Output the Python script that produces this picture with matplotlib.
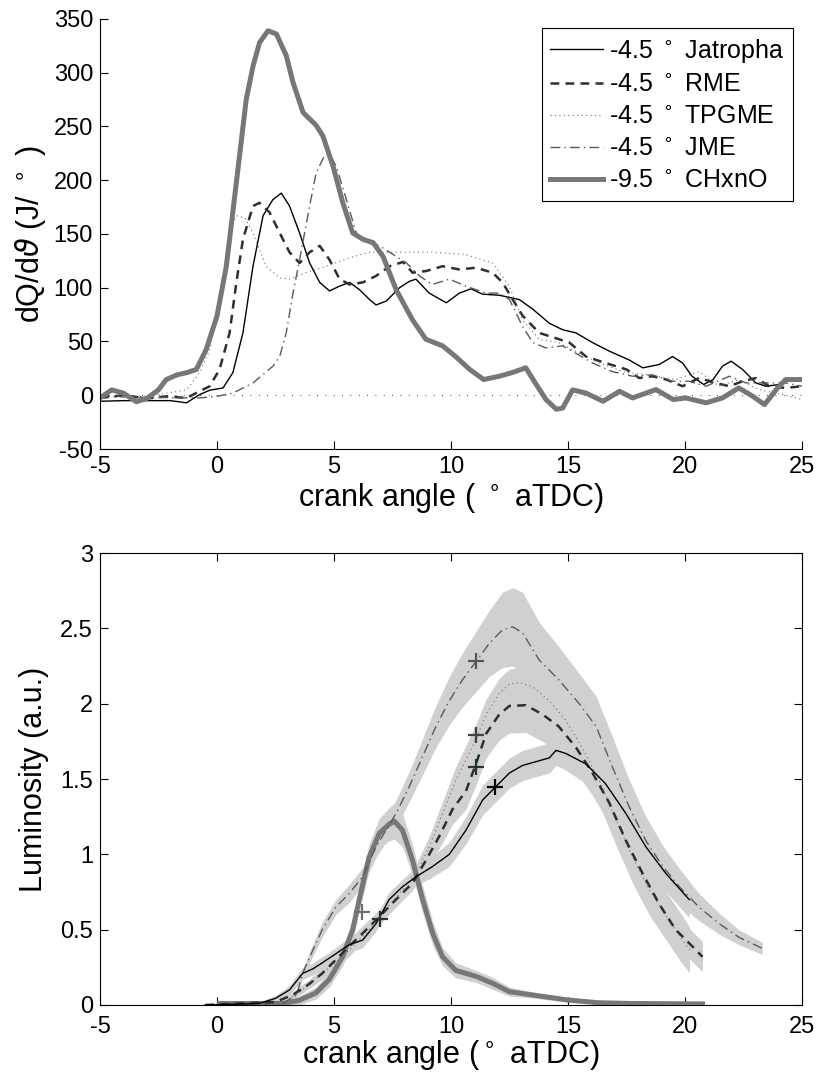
import matplotlib
matplotlib.use("Agg")
import matplotlib.pyplot as plt
import numpy as np

plt.rcParams['font.family'] = ['Liberation Sans', 'DejaVu Sans']
plt.rcParams['mathtext.fontset'] = 'dejavusans'
plt.rcParams['axes.unicode_minus'] = False

# ---------------- top panel: heat release rate ----------------
ang_jat = [-5, -4, -3, -2, -1.3, -0.74, -0.31, 0.26, 0.68, 1.11, 1.54, 1.97, 2.39, 2.75, 3.1, 3.53,
           3.96, 4.39, 4.81, 5.24, 5.67, 6.1, 6.52, 6.8, 7.24, 7.8, 8.23, 8.5, 9.07, 9.8, 10.36, 10.85,
           11.35, 12.07, 12.92, 13.5, 14.2, 14.77, 15.34, 16.05, 16.77, 17.6, 18.2, 18.9, 19.47, 19.9,
           20.3, 20.8, 21.2, 21.6, 21.97, 22.46, 23.03, 23.46, 24.03, 24.46, 25]
hrr_jat = [-5.6, -5, -5, -5, -7, 0.6, 4.7, 6.8, 21, 58, 120, 167, 182, 188, 176, 151,
           123, 105, 97, 101.5, 105, 98, 89, 84, 87.6, 100, 106, 108, 95, 86, 95, 99,
           94, 93, 89, 80, 67, 61, 58, 49, 41, 33, 25.5, 28.6, 36, 30,
           17.7, 10, 14.6, 27, 31.7, 24, 11.5, 8.4, 10, 14.6, 14.6]

ang_rme = [-5, -4, -3, -2.17, -1.3, -0.74, -0.31, 0.11, 0.54, 0.83, 1.11, 1.54, 1.82, 2.25, 2.68, 3.1,
           3.53, 3.96, 4.39, 4.81, 5.24, 5.67, 6.24, 6.8, 7.38, 7.95, 8.36, 8.93, 9.64, 10.36, 11.07,
           11.78, 12.2, 12.64, 13.06, 13.77, 14.49, 15.06, 15.77, 16.6, 17.5, 18.05, 18.6, 19.2, 19.9,
           20.6, 21.3, 21.9, 22.46, 23.03, 23.6, 24.3, 25]
hrr_rme = [-2.5, 0, -3, -1, -2.5, 3.7, 8.4, 24, 58, 105, 145, 176, 179, 170, 151, 133,
           123, 133, 139, 126, 108, 103, 105, 111, 120, 124, 114, 115.5, 120, 117, 118.6,
           114, 105, 89, 74, 58, 53, 49, 36, 30, 24, 16, 17.7, 14.6, 8.4,
           16, 11.5, 8.4, 13, 16, 8.4, 6.8, 8.4]

ang_tpg = [-5, -3, -1.3, -0.74, -0.31, 0.11, 0.54, 0.83, 1.2, 1.54, 2.1, 2.68, 3.1, 3.8, 4.67, 5.67,
           6.52, 7.8, 9.2, 10.6, 11.78, 12.5, 13.06, 13.77, 14.6, 15.48, 16.34, 17.48, 18.5, 19.6,
           20.6, 21.46, 22.3, 23.2, 24.2, 25]
hrr_tpg = [-1, -1, 5, 21, 42, 89, 151, 167, 165, 151, 120, 109, 108, 114, 120, 128,
           133, 133, 133, 131, 123, 101, 70, 52, 49, 39, 30, 21, 19, 14.6,
           22, 8.4, 14.6, 5, 0.6, -4]

ang_jme = [-5, -3, -0.74, 0, 0.68, 1.54, 2.39, 2.68, 2.96, 3.25, 3.53, 3.96, 4.24, 4.6, 4.81, 5.1,
           5.53, 5.95, 6.38, 6.95, 7.38, 8.1, 8.65, 9.2, 9.93, 10.64, 11.5, 12.07, 12.5, 13.06, 13.5,
           14.06, 14.77, 15.34, 16.05, 16.9, 17.76, 18.6, 19.47, 20.18, 20.9, 21.9, 22.6, 23.46, 24.3, 25]
hrr_jme = [-1, -2, -2.5, -1, 2, 11.5, 27, 36, 58, 95, 126, 176, 207, 223, 224, 213,
           182, 151, 142, 139, 133, 123, 111, 103, 108, 101.5, 95, 95, 89, 64, 49,
           44, 46, 39, 30, 22, 17.7, 19, 13, 13, 8.4, 17.7, 11.5, 11.5, 11.5, 8.4]

ang_chx = [-5, -4.5, -4, -3.45, -3, -2.5, -2.17, -1.7, -1.3, -0.88, -0.46, 0, 0.4, 0.83, 1.25, 1.54,
           1.82, 2.18, 2.54, 2.96, 3.25, 3.68, 4.24, 4.53, 4.96, 5.38, 5.8, 6.24, 6.67, 7.1, 7.66,
           8.36, 8.93, 9.64, 10.2, 10.8, 11.4, 12.07, 12.6, 13.2, 13.6, 14.06, 14.5, 14.77, 15.2,
           15.77, 16.5, 17.2, 17.76, 18.76, 19.5, 20.04, 20.9, 21.6, 22.3, 22.9, 23.4, 23.9, 24.3, 25]
hrr_chx = [-2.5, 5, 2, -6, -3, 5, 14.6, 19, 21, 24, 42.5, 73.6, 120, 198, 275, 306,
           328, 339, 336, 316, 291, 263, 251, 241, 213, 179, 151, 145, 142, 129, 98,
           70, 52, 46, 36, 24, 14.6, 17.7, 21, 25.5, 11.5, -4, -13, -12, 5,
           2, -5.6, 3.7, -2.5, 5.3, -4, -2.5, -7, -2.5, 6.8, -1, -8.7, 5.3, 14.6, 14.6]

labels = ['-4.5 $^\\circ$ Jatropha', '-4.5 $^\\circ$ RME', '-4.5 $^\\circ$ TPGME',
          '-4.5 $^\\circ$ JME', '-9.5 $^\\circ$ CHxnO']

# ---------------- bottom panel: luminosity ----------------
lang_jat = [-0.5, 1.8, 2.5, 3.1, 3.66, 4.1, 4.5, 5.08, 5.65, 6.22, 6.8, 7.36, 7.93, 8.5, 9.22,
            9.93, 10.64, 11.35, 11.92, 12.5, 13.06, 14.2, 14.49, 14.9, 15.77, 16.6, 17.48, 18.33,
            19.2, 20.18]
lum_jat = [0, 0.01, 0.044, 0.1, 0.21, 0.24, 0.28, 0.34, 0.4, 0.43, 0.54, 0.70, 0.785, 0.85, 0.92,
           1.0, 1.16, 1.36, 1.45, 1.54, 1.59, 1.64, 1.69, 1.67, 1.60, 1.47, 1.27, 1.05,
           0.87, 0.70]
sd_jat = [0, 0.01, 0.02, 0.03, 0.04, 0.04, 0.04, 0.04, 0.05, 0.05, 0.05, 0.05, 0.05, 0.06, 0.07,
          0.08, 0.09, 0.1, 0.1, 0.1, 0.1, 0.1, 0.1, 0.11, 0.13, 0.14, 0.14, 0.13,
          0.12, 0.12]

lang_rme = [-0.5, 2.5, 3.23, 3.95, 4.5, 5.08, 5.65, 6.22, 6.94, 7.65, 8.36, 8.93, 9.5, 10.07, 10.64,
            11.07, 11.5, 12.07, 12.5, 13.2, 13.9, 14.6, 15.34, 16.05, 16.77, 17.48, 18.2, 18.9,
            19.6, 20.18, 20.75]
lum_rme = [0, 0.02, 0.066, 0.14, 0.21, 0.3, 0.39, 0.475, 0.586, 0.70, 0.81, 0.96, 1.12, 1.3, 1.42,
           1.6, 1.8, 1.93, 1.985, 1.99, 1.93, 1.85, 1.71, 1.54, 1.34, 1.09, 0.87, 0.67,
           0.5, 0.41, 0.32]
sd_rme = [0, 0.01, 0.02, 0.03, 0.04, 0.05, 0.05, 0.05, 0.05, 0.05, 0.05, 0.06, 0.08, 0.1, 0.12,
          0.14, 0.16, 0.17, 0.18, 0.18, 0.18, 0.17, 0.16, 0.15, 0.14, 0.13, 0.12, 0.11,
          0.1, 0.1, 0.1]

lang_tpg = [-0.5, 2.8, 3.66, 4.5, 5.37, 5.94, 6.5, 7.08, 7.8, 8.5, 9.07, 9.64, 10.2, 10.78, 11.14,
            11.5, 12.07, 12.5, 12.92, 13.5, 14.2, 14.9, 15.6, 16.34, 17.05, 17.76, 18.5, 19.2,
            19.9, 20.2]
lum_tpg = [0, 0.01, 0.1, 0.21, 0.32, 0.41, 0.5, 0.61, 0.74, 0.87, 1.05, 1.27, 1.49, 1.67, 1.79,
           1.93, 2.07, 2.13, 2.14, 2.11, 2.02, 1.89, 1.71, 1.49, 1.23, 0.98, 0.76, 0.59,
           0.43, 0.365]
sd_tpg = [0, 0.01, 0.02, 0.03, 0.04, 0.04, 0.05, 0.05, 0.05, 0.06, 0.07, 0.08, 0.09, 0.1, 0.1,
          0.1, 0.1, 0.1, 0.1, 0.1, 0.12, 0.14, 0.15, 0.16, 0.17, 0.17, 0.17, 0.16,
          0.16, 0.15]

lang_jme = [-0.5, 2.8, 3.4, 3.66, 4.1, 4.5, 5.08, 5.65, 6.22, 6.8, 7.22, 7.65, 8.22, 8.79, 9.36,
            9.93, 10.5, 11.07, 11.64, 12.2, 12.64, 13.06, 13.77, 14.6, 15.48, 16.2, 16.9, 17.6,
            18.33, 19.05, 19.76, 20.6, 21.46, 22.3, 23.3]
lum_jme = [0, 0.01, 0.066, 0.21, 0.365, 0.5, 0.65, 0.74, 0.85, 1.05, 1.16, 1.27, 1.45, 1.65, 1.85,
           2.02, 2.16, 2.28, 2.40, 2.49, 2.51, 2.47, 2.29, 2.16, 2.0, 1.85, 1.58, 1.32,
           1.09, 0.92, 0.785, 0.65, 0.54, 0.45, 0.376]
sd_jme = [0, 0.01, 0.02, 0.03, 0.04, 0.05, 0.05, 0.06, 0.06, 0.07, 0.08, 0.09, 0.1, 0.12, 0.14,
          0.16, 0.18, 0.2, 0.22, 0.25, 0.26, 0.27, 0.25, 0.22, 0.2, 0.2, 0.2, 0.18,
          0.16, 0.14, 0.12, 0.09, 0.07, 0.05, 0.04]

lang_chx = [0.1, 2.8, 3.5, 4.23, 4.8, 5.37, 5.8, 6.08, 6.5, 6.94, 7.36, 7.58, 7.93, 8.36, 8.79,
            9.22, 9.64, 10.2, 11.07, 11.78, 12.5, 13.5, 15, 16.3, 17.76, 20.75]
lum_chx = [0.01, 0.01, 0.03, 0.08, 0.17, 0.32, 0.5, 0.7, 0.98, 1.14, 1.2, 1.22, 1.16, 0.96, 0.7,
           0.475, 0.32, 0.23, 0.19, 0.144, 0.088, 0.066, 0.033, 0.015, 0.01, 0.007]
sd_chx = [0.02, 0.02, 0.03, 0.04, 0.05, 0.06, 0.07, 0.08, 0.09, 0.1, 0.11, 0.12, 0.11, 0.1, 0.09,
          0.08, 0.06, 0.05, 0.04, 0.04, 0.03, 0.02, 0.015, 0.01, 0.01, 0.01]

# '+' markers on the luminosity curves
mark_ang = [11.9, 11.05, 6.95, 11.05, 11.05, 6.2]
mark_lum = [1.45, 1.58, 0.57, 1.79, 2.28, 0.62]
mark_col = ['black', '#263333', '#263333', '#3a4444', '#555555', '#6f6f6f']

c_rme = '#263333'
c_tpg = '#707070'
c_jme = '#5a5a5a'
c_chx = '#777777'
c_band = '#d0d0d0'

fig = plt.figure(figsize=(8.18, 10.88), dpi=100)
ax1 = fig.add_axes([0.1222, 0.5873, 0.8582, 0.3953])
ax2 = fig.add_axes([0.1222, 0.0763, 0.8582, 0.4154])

# top panel
ax1.plot([-5, 25], [0, 0], color='black', lw=0.6, dashes=(1, 9))
l1, = ax1.plot(ang_jat, hrr_jat, color='black', lw=1.0)
l2, = ax1.plot(ang_rme, hrr_rme, color=c_rme, lw=1.8, dashes=(3.5, 2.5))
l3, = ax1.plot(ang_tpg, hrr_tpg, color=c_tpg, lw=0.8, dashes=(1, 3))
l4, = ax1.plot(ang_jme, hrr_jme, color=c_jme, lw=1.0, dashes=(7, 3, 1, 3))
l5, = ax1.plot(ang_chx, hrr_chx, color=c_chx, lw=3.6, solid_joinstyle='round')

ax1.set_xlim(-5, 25)
ax1.set_ylim(-50, 350)
ax1.set_xticks(range(-5, 26, 5))
ax1.set_yticks(range(-50, 351, 50))
ax1.spines['top'].set_visible(False)
ax1.spines['right'].set_visible(False)
ax1.tick_params(direction='in', length=6, width=0.8, labelsize=17, pad=5)
ax1.set_xlabel('crank angle ( $^\\circ$ aTDC)', fontsize=22, labelpad=2)
ax1.set_ylabel('dQ/d$\\vartheta$ (J/ $^\\circ$ )', fontsize=22, labelpad=4)

leg = ax1.legend([l1, l2, l3, l4, l5], labels, loc='upper right',
                 bbox_to_anchor=(0.987, 0.979), borderaxespad=0, fontsize=18,
                 fancybox=False, framealpha=1, edgecolor='black',
                 handlelength=2.1, handletextpad=0.25, labelspacing=0.32,
                 borderpad=0.35)
leg.get_frame().set_linewidth(0.8)

# bottom panel
for a, m, s in [(lang_jme, lum_jme, sd_jme), (lang_tpg, lum_tpg, sd_tpg),
                (lang_rme, lum_rme, sd_rme), (lang_jat, lum_jat, sd_jat),
                (lang_chx, lum_chx, sd_chx)]:
    m = np.array(m)
    s = np.array(s)
    ax2.fill_between(a, m - s, m + s, color=c_band, lw=0, zorder=1)

ax2.plot(lang_chx, lum_chx, color=c_chx, lw=3.6, zorder=3, solid_joinstyle='round')
ax2.plot(lang_jme, lum_jme, color=c_jme, lw=1.0, dashes=(7, 3, 1, 3), zorder=3)
ax2.plot(lang_tpg, lum_tpg, color=c_tpg, lw=0.8, dashes=(1, 3), zorder=3)
ax2.plot(lang_rme, lum_rme, color=c_rme, lw=1.8, dashes=(3.5, 2.5), zorder=3)
ax2.plot(lang_jat, lum_jat, color='black', lw=1.0, zorder=3)
for xa, ya, ca in zip(mark_ang, mark_lum, mark_col):
    ax2.plot(xa, ya, marker='+', ms=11, mew=1.6, color=ca, zorder=4)

ax2.set_xlim(-5, 25)
ax2.set_ylim(0, 3)
ax2.set_xticks(range(-5, 26, 5))
ax2.set_yticks([0, 0.5, 1, 1.5, 2, 2.5, 3])
ax2.set_yticklabels(['0', '0.5', '1', '1.5', '2', '2.5', '3'])
ax2.tick_params(direction='in', length=6, width=0.8, labelsize=17, pad=5,
                top=True, right=True)
ax2.tick_params(axis='x', pad=8)
for sp in ax2.spines.values():
    sp.set_linewidth(0.8)
for sp in ax1.spines.values():
    sp.set_linewidth(0.8)
ax2.set_xlabel('crank angle ($^\\circ$ aTDC)', fontsize=22, labelpad=0)
ax2.set_ylabel('Luminosity (a.u.)', fontsize=22, labelpad=8)

fig.savefig('out.png', dpi=100)
